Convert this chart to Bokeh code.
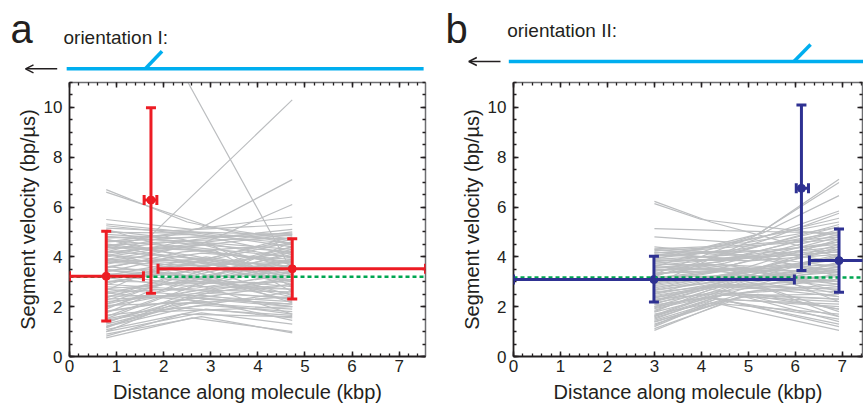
from bokeh.plotting import figure
from bokeh.layouts import row, column
from bokeh.models import (Range1d, SingleIntervalTicker, LinearAxis, Span, Whisker, Title,
                          TeeHead, ColumnDataSource, Arrow, OpenHead, PrintfTickFormatter)
from bokeh.core.properties import value
from bokeh.embed import file_html
from bokeh.resources import INLINE

FONT = "Liberation Sans"
INK = "#231f20"
GRAY = "#bcbec0"
GREEN = "#00a651"
CYAN = "#00aeef"
RED = "#ed1c24"
BLUE = "#2e3192"

# ---------------- data: panel a (orientation I) ----------------
a_x0 = 0.78   # centre of first segment (kbp)
a_x1 = 4.73   # centre of last segment (kbp)
a_v0 = [0.75, 0.82, 0.9, 1.0, 1.08, 1.15, 1.22, 1.3, 1.38, 1.45, 1.52, 1.6, 1.66, 1.75, 1.82,
        1.9, 1.97, 2.05, 2.12, 2.2, 2.27, 2.35, 2.42, 2.5, 2.57, 2.65, 2.72, 2.8, 2.88, 2.95,
        3.02, 3.1, 3.17, 3.25, 3.32, 3.4, 3.47, 3.55, 3.62, 3.7, 3.78, 3.85, 3.92, 4.0, 4.08,
        4.15, 4.22, 4.3, 4.38, 4.45, 4.52, 4.6, 4.68, 4.75, 4.82, 4.9, 4.98, 5.05, 5.15, 5.25,
        5.32, 5.5, 6.6, 6.7, 4.4, 4.2, 3.9, 12.5,
        2.0, 2.3, 2.6, 2.9, 3.2, 3.5, 3.8, 4.1, 4.4, 4.7, 1.2, 1.5, 1.8, 2.1, 2.4,
        2.7, 3.0, 3.3, 3.6, 3.9, 4.2, 4.5, 4.8, 5.1, 1.0, 1.35, 2.55, 3.45, 4.05, 4.6]
a_xm = [2.6, 2.4, 2.8, 2.2, 2.9, 2.5, 1.9, 2.7, 3.0, 2.3, 2.6, 2.1, 2.9, 2.4, 2.7,
        1.8, 3.1, 2.5, 2.2, 2.8, 2.0, 2.6, 2.9, 2.3, 2.7, 1.9, 3.0, 2.4, 2.6, 2.1,
        2.8, 2.5, 2.2, 2.9, 2.6, 2.0, 2.7, 2.4, 3.0, 2.3, 2.8, 1.9, 2.6, 2.5, 2.9,
        2.2, 2.7, 2.4, 3.1, 2.0, 2.6, 2.8, 2.3, 2.5, 2.9, 2.1, 2.7, 2.4, 2.6, 2.8,
        2.2, 2.6, 3.0, 2.5, 1.7, 2.78, 2.78, 1.73,
        2.5, 2.2, 2.8, 2.4, 2.7, 2.1, 2.9, 2.3, 2.6, 2.0, 2.6, 2.9, 2.2, 2.7, 3.0,
        2.3, 2.6, 2.0, 2.8, 2.5, 3.0, 2.4, 2.7, 2.2, 2.8, 2.4, 2.9, 2.3, 2.7, 2.5]
a_vm = [1.55, 1.7, 1.6, 2.1, 1.9, 2.4, 1.8, 2.2, 2.6, 1.95, 2.8, 2.5, 2.05, 3.0, 2.35,
        2.7, 3.3, 2.15, 3.1, 2.55, 2.9, 3.5, 2.45, 3.2, 2.75, 3.6, 3.05, 2.65, 3.8, 3.4,
        2.95, 3.7, 2.85, 4.0, 3.25, 3.9, 3.55, 4.2, 3.15, 4.35, 3.65, 4.1, 3.35, 4.5, 3.75,
        4.45, 3.95, 4.65, 4.25, 4.6, 4.05, 4.8, 4.4, 4.9, 4.55, 4.75, 4.95, 4.7, 5.0, 4.85,
        5.05, 5.1, 5.2, 5.4, 4.8, 5.16, 4.5, 13.7,
        2.6, 2.4, 3.1, 2.7, 3.6, 3.1, 3.9, 3.6, 4.3, 4.2, 2.0, 2.3, 2.2, 2.9, 3.3,
        2.5, 3.45, 3.0, 4.15, 3.75, 4.5, 3.85, 4.6, 4.35, 1.75, 2.45, 2.2, 3.3, 4.7, 5.0]
a_v1 = [1.0, 1.6, 0.95, 2.4, 1.55, 3.1, 2.0, 1.7, 2.9, 1.65, 3.6, 2.2, 1.8, 3.9, 2.1,
        2.6, 4.2, 1.9, 3.4, 2.35, 3.0, 4.4, 2.0, 2.8, 3.3, 3.8, 2.5, 4.6, 3.2, 2.25,
        3.7, 4.8, 2.7, 3.5, 4.1, 3.0, 2.45, 4.5, 3.85, 4.9, 2.9, 3.4, 4.3, 5.0, 3.05,
        4.0, 3.6, 4.75, 2.6, 4.2, 3.3, 4.85, 3.75, 4.55, 3.95, 4.95, 4.4, 3.55, 4.65, 4.1,
        5.3, 5.6, 4.7, 4.5, 10.3, 7.1, 6.1, 3.4,
        3.1, 2.1, 3.6, 2.3, 4.2, 2.7, 3.2, 4.6, 3.7, 3.0, 2.6, 2.0, 2.9, 1.7, 3.9,
        3.4, 2.15, 4.4, 3.9, 4.7, 2.8, 3.5, 4.3, 3.8, 1.3, 3.2, 1.45, 2.4, 5.1, 4.9]
# mean +/- spread per segment
a_px = [0.78, 1.73, 4.73]
a_py = [3.22, 6.28, 3.52]
a_xlo = [0.0, 1.585, 1.88]
a_xhi = [1.57, 1.855, 7.56]
a_ylo = [1.43, 2.54, 2.31]
a_yhi = [5.03, 9.99, 4.73]
a_mean = 3.2
a_xmax = 7.56
a_junction = 1.61

# ---------------- data: panel b (orientation II) ----------------
b_x0 = 3.0
b_x1 = 6.93
b_v0 = [1.05, 1.12, 1.2, 1.3, 1.38, 1.45, 1.55, 1.62, 1.7, 1.78, 1.85, 1.92, 2.0, 2.07, 2.15,
        2.22, 2.3, 2.37, 2.45, 2.52, 2.6, 2.67, 2.75, 2.82, 2.9, 2.97, 3.05, 3.12, 3.2, 3.27,
        3.35, 3.42, 3.5, 3.57, 3.65, 3.72, 3.8, 3.87, 3.95, 4.02, 4.1, 4.17, 4.25, 4.32, 4.4,
        4.8, 5.13, 6.14, 6.23, 3.6, 3.3, 3.9, 2.9, 3.2, 4.05, 2.5, 1.6, 3.0, 2.2, 3.45,
        1.5, 1.8, 2.1, 2.4, 2.7, 3.0, 3.3, 3.6, 3.9, 4.2, 1.25, 1.65, 1.95, 2.25, 2.55,
        2.85, 3.15, 3.45, 3.75, 4.05, 4.3, 2.0, 2.65, 3.35, 3.85, 1.4, 2.35, 2.95, 3.55, 4.15]
b_xm = [4.4, 4.6, 4.2, 4.8, 4.5, 5.0, 4.3, 4.7, 5.2, 4.4, 4.9, 4.1, 4.6, 5.4, 4.3,
        4.8, 4.5, 5.1, 4.2, 4.7, 5.3, 4.4, 4.9, 4.0, 4.6, 5.0, 4.3, 4.8, 5.5, 4.5,
        4.1, 4.7, 5.2, 4.4, 4.9, 4.2, 4.6, 5.1, 4.3, 4.8, 4.5, 5.3, 4.0, 4.7, 4.4,
        4.9, 4.5, 4.0, 4.2, 5.2, 5.1, 5.3, 5.0, 5.4, 4.6, 4.8, 5.2, 4.5, 4.2, 4.4,
        4.5, 4.2, 4.8, 4.4, 5.0, 4.3, 4.7, 4.1, 4.9, 4.6, 4.3, 4.8, 4.5, 5.1, 4.2,
        4.6, 4.9, 4.4, 5.2, 4.7, 4.3, 4.6, 4.9, 4.2, 4.5, 5.0, 4.4, 4.8, 4.1, 4.7]
b_vm = [2.1, 2.2, 2.15, 2.4, 2.25, 2.6, 2.3, 2.75, 2.5, 2.45, 3.0, 2.35, 2.9, 2.7, 2.6,
        3.2, 2.55, 3.1, 2.8, 3.35, 2.95, 3.05, 3.45, 2.9, 3.3, 3.6, 3.15, 3.5, 3.25, 3.75,
        3.4, 3.9, 3.55, 3.8, 4.0, 3.65, 4.1, 3.85, 4.2, 4.3, 3.95, 4.25, 4.35, 4.45, 4.15,
        4.55, 5.05, 5.5, 5.4, 4.9, 4.8, 4.95, 4.6, 4.7, 4.5, 3.1, 2.9, 3.5, 2.75, 3.7,
        2.5, 2.7, 3.1, 2.9, 3.4, 3.2, 3.7, 3.5, 4.1, 3.9, 2.3, 2.9, 2.65, 3.3, 2.85,
        3.25, 3.6, 3.55, 4.05, 4.2, 4.1, 2.55, 3.15, 3.45, 3.9, 2.45, 2.8, 3.35, 3.7, 4.4]
b_v1 = [1.05, 1.3, 1.7, 2.2, 1.2, 2.9, 1.5, 3.3, 1.9, 2.5, 3.6, 2.0, 2.7, 1.6, 3.1,
        4.0, 2.3, 3.4, 2.6, 4.3, 2.4, 3.5, 3.0, 4.5, 2.8, 4.7, 3.2, 3.9, 2.2, 4.9,
        3.7, 4.2, 3.3, 5.1, 4.4, 2.9, 5.3, 4.1, 3.6, 5.0, 4.6, 3.8, 5.4, 4.8, 3.4,
        5.2, 4.95, 4.85, 4.0, 7.12, 6.99, 6.46, 5.84, 5.75, 5.55, 1.8, 3.8, 2.5, 4.05, 3.0,
        2.8, 1.9, 3.7, 2.4, 4.4, 3.0, 4.6, 3.4, 5.0, 4.2, 2.1, 3.5, 1.6, 4.1, 2.7,
        3.9, 2.6, 4.8, 3.2, 5.2, 4.5, 1.4, 3.6, 2.9, 4.3, 2.3, 3.1, 4.0, 3.5, 4.7]
b_px = [2.99, 6.13, 6.93]
b_py = [3.09, 6.75, 3.85]
b_xlo = [0.0, 6.02, 6.3]
b_xhi = [5.98, 6.28, 7.9]
b_ylo = [2.19, 3.45, 2.58]
b_yhi = [4.02, 10.1, 5.12]
b_mean = 3.17
b_xmax = 7.43
b_junction = 5.97

Y_MAX = 11
HEAD_H = 80
MAIN_H = 326
FRAME_H = 280
X_TITLE = "Distance along molecule (kbp)"
Y_TITLE = "Segment velocity (bp/µs)"


def style_axes(p):
    bottom = p.below[0]
    left = p.left[0]
    bottom.ticker = SingleIntervalTicker(interval=1, num_minor_ticks=5)
    left.ticker = SingleIntervalTicker(interval=2, num_minor_ticks=4)
    top = LinearAxis(ticker=SingleIntervalTicker(interval=1, num_minor_ticks=5),
                     formatter=PrintfTickFormatter(format=""))
    right = LinearAxis(ticker=SingleIntervalTicker(interval=2, num_minor_ticks=4),
                       formatter=PrintfTickFormatter(format=""))
    p.add_layout(top, "above")
    p.add_layout(right, "right")
    for ax in (bottom, left, top, right):
        ax.major_tick_in = 5
        ax.major_tick_out = 0
        ax.minor_tick_in = 3
        ax.minor_tick_out = 0
        ax.major_tick_line_color = INK
        ax.minor_tick_line_color = INK
        ax.major_tick_line_width = 1.5
        ax.minor_tick_line_width = 1.3
        ax.axis_line_color = INK
        ax.axis_line_width = 1.8
        ax.major_label_text_font = FONT
        ax.major_label_text_font_size = "17px"
        ax.major_label_text_color = INK
        ax.axis_label_text_font = FONT
        ax.axis_label_text_font_size = "20px"
        ax.axis_label_text_font_style = "normal"
        ax.axis_label_text_color = INK
    for ax in (top, right):
        ax.major_label_standoff = 0
        ax.major_label_text_font_size = "1px"
        ax.axis_line_color = "#6d6e71"
        ax.axis_line_width = 1.5
    bottom.major_label_standoff = 3
    left.major_label_standoff = 7
    left.axis_label_standoff = 2


def main_panel(width, left, right, xmax, x0, x1, v0, xm, vm, v1,
               px, py, xlo, xhi, ylo, yhi, mean, color, title_offset):
    p = figure(width=width, height=MAIN_H, x_range=Range1d(0, xmax), y_range=Range1d(0, Y_MAX),
               output_backend="svg", toolbar_location=None,
               min_border_left=left, min_border_right=right, min_border_top=2,
               min_border_bottom=MAIN_H - 2 - FRAME_H, y_axis_label=Y_TITLE)
    p.grid.visible = False
    p.outline_line_color = None
    style_axes(p)
    p.add_layout(Title(text=X_TITLE, align="center", offset=title_offset, standoff=8,
                       text_font=FONT, text_font_size="20px", text_font_style="normal",
                       text_color=INK), "below")

    xs = [[x0, m, x1] for m in xm]
    ys = [[a, b, c] for a, b, c in zip(v0, vm, v1)]
    p.multi_line(xs, ys, line_color=GRAY, line_width=1.2)
    p.add_layout(Span(location=mean, dimension="width", line_color=GREEN,
                      line_width=2.5, line_dash="4 3", level="overlay"))
    src = ColumnDataSource(dict(px=px, py=py, xlo=xlo, xhi=xhi, ylo=ylo, yhi=yhi))
    for base, lo, hi, dim in (("py", "xlo", "xhi", "width"), ("px", "ylo", "yhi", "height")):
        p.add_layout(Whisker(source=src, base=base, lower=lo, upper=hi, dimension=dim,
                             line_color=color, line_width=3, level="overlay",
                             lower_head=TeeHead(size=10, line_color=color, line_width=3),
                             upper_head=TeeHead(size=10, line_color=color, line_width=3)))
    p.scatter("px", "py", source=src, size=8, color=color, level="overlay")
    return p


def header(width, left, right, xmax, letter, letter_px, letter_base, lab, lab_px, lab_base,
           mol_y, mol_x0, mol_x1, junc, tip_dx, tip_y, arr_px0, arr_px1):
    ppx = (width - left - right) / xmax

    def xd(pxl):   # pixel column -> kbp (same scale as the panel below)
        return (pxl - left) / ppx

    h = figure(width=width, height=HEAD_H,
               x_range=Range1d(xd(0), xd(width)), y_range=Range1d(HEAD_H, 0),
               min_border=0, frame_align=False,
               x_axis_location=None, y_axis_location=None,
               output_backend="svg", toolbar_location=None)
    h.grid.visible = False
    h.outline_line_color = None
    h.text(x=[xd(letter_px)], y=[letter_base], text=[letter], text_font=value(FONT),
           text_font_size="40px", text_baseline="alphabetic", text_color=INK)
    h.text(x=[xd(lab_px)], y=[lab_base], text=[lab], text_font=value(FONT),
           text_font_size="19px", text_baseline="alphabetic", text_color=INK)
    h.line([mol_x0, mol_x1], [mol_y, mol_y], line_color=CYAN, line_width=3.5)
    h.line([junc, junc + tip_dx], [mol_y, tip_y], line_color=CYAN, line_width=3.5)
    h.add_layout(Arrow(end=OpenHead(size=8, line_width=1.5, line_color=INK),
                       x_start=xd(arr_px0), y_start=mol_y, x_end=xd(arr_px1), y_end=mol_y,
                       line_color=INK, line_width=1.5))
    return h


A_W, A_L, A_R = 440, 69, 15
B_W, B_L, B_R = 423, 73, 1

ma = main_panel(A_W, A_L, A_R, a_xmax, a_x0, a_x1, a_v0, a_xm, a_vm, a_v1,
                a_px, a_py, a_xlo, a_xhi, a_ylo, a_yhi, a_mean, RED, -4.5)
mb = main_panel(B_W, B_L, B_R, b_xmax, b_x0, b_x1, b_v0, b_xm, b_vm, b_v1,
                b_px, b_py, b_xlo, b_xhi, b_ylo, b_yhi, b_mean, BLUE, -13.7)

ha = header(A_W, A_L, A_R, a_xmax, "a", 10, 28, "orientation I:", 63, 37,
            68.3, -0.06, 7.52, a_junction, 0.355, 50.7, 56.7, 25)
hb = header(B_W, B_L, B_R, b_xmax, "b", 5, 28, "orientation II:", 66.7, 29.5,
            61, -0.1, 7.6, b_junction, 0.355, 44, 60, 28.3)

layout = row(column(ha, ma, spacing=0), column(hb, mb, spacing=0), spacing=0)
open("out.html", "w").write(file_html(layout, INLINE))
